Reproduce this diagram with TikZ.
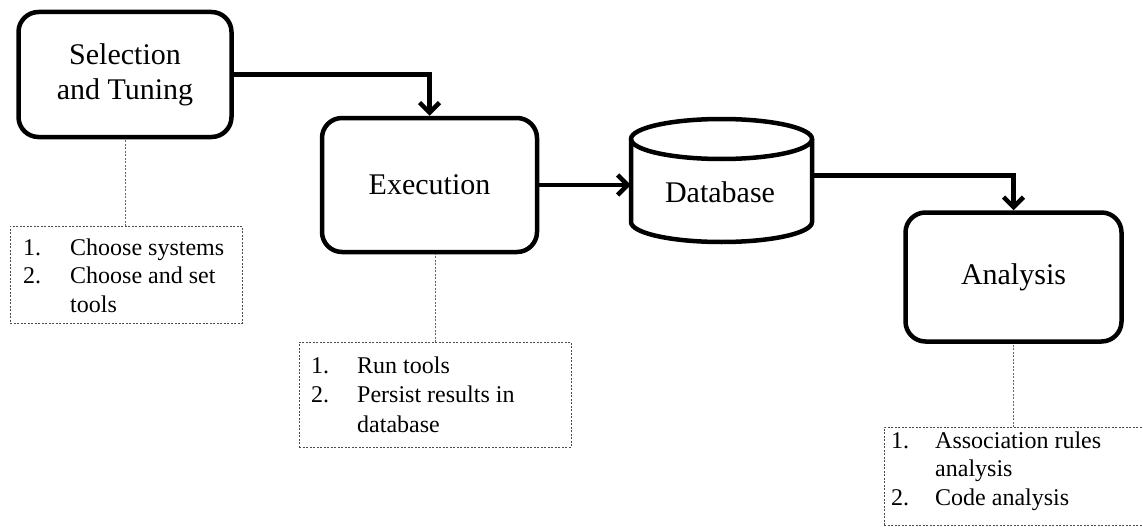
\documentclass[tikz,border=0pt]{standalone}
\usepackage{fontspec}
\setmainfont{Liberation Serif}
\usetikzlibrary{arrows.meta}

\tikzset{
  stage/.style={draw, line width=4.5pt, rounded corners=20pt, align=center,
    font=\fontsize{30}{35}\selectfont, inner sep=0pt},
  flow/.style={line width=4.5pt, -{Straight Barb[length=10pt,width=20pt]}},
  notebox/.style={draw=black!70, line width=0.9pt, dash pattern=on 2pt off 1.5pt,
    inner sep=0pt, anchor=north west},
  notelink/.style={draw=black!60, line width=0.9pt, dash pattern=on 2pt off 1.5pt},
  notetext/.style={inner sep=0pt, anchor=base west, font=\fontsize{24}{28.5}\selectfont},
  dbshape/.style={line width=4.5pt}
}

\begin{document}
\begin{tikzpicture}[x=1pt, y=-1pt]
  \useasboundingbox (0,0) rectangle (1143,527);

  % process stages
  \node[stage, minimum width=213pt, minimum height=125pt] (sel) at (125,74.5)
    {Selection\\and Tuning};
  \node[stage, minimum width=215pt, minimum height=134pt] (exec) at (429.5,185)
    {Execution};
  \node[stage, minimum width=216pt, minimum height=129pt] (an) at (1013.5,277)
    {Analysis};

  % database cylinder
  \node[minimum width=181pt, minimum height=123pt, inner sep=0pt] (db) at (721.5,180.5) {};
  \node[font=\fontsize{30}{35}\selectfont, inner sep=0pt, anchor=base] (dbl) at (720,202) {Database};
  \draw[dbshape] (721.5,139) ellipse [x radius=90.5, y radius=20];
  \draw[dbshape] (631,139) -- (631,222)
    arc[start angle=180, end angle=0, x radius=90.5, y radius=20] -- (812,139);

  % flow arrows
  \draw[flow] (sel.east) -| (exec.north);
  \draw[flow] (exec.east) -- (exec.east -| db.west);
  \draw[flow] ([yshift=5pt]db.east) -| (an.north);

  % note boxes
  \node[notebox, minimum width=232pt, minimum height=97pt] (n1) at (10,226) {};
  \node[notebox, minimum width=272pt, minimum height=105pt] (n2) at (299,342) {};
  \node[notebox, minimum width=260pt, minimum height=98pt] (n3) at (884,427) {};

  \draw[notelink] (n1.north -| sel.south) -- (sel.south);
  \draw[notelink] (n2.north) -- (n2.north |- exec.south);
  \draw[notelink] (n3.north -| an.south) -- (an.south);

  \node[notetext] (n1t) at (23,255)
    {\begin{tabular}[t]{@{}p{47pt}@{}l@{}}1.&Choose systems\\2.&Choose and set\\&tools\end{tabular}};
  \node[notetext, font=\fontsize{24}{29.5}\selectfont] (n2t) at (311,373)
    {\begin{tabular}[t]{@{}p{46pt}@{}l@{}}1.&Run tools\\2.&Persist results in\\&database\end{tabular}};
  \node[notetext] (n3t) at (891,448)
    {\begin{tabular}[t]{@{}p{44pt}@{}l@{}}1.&Association rules\\&analysis\\2.&Code analysis\end{tabular}};
\end{tikzpicture}
\end{document}
